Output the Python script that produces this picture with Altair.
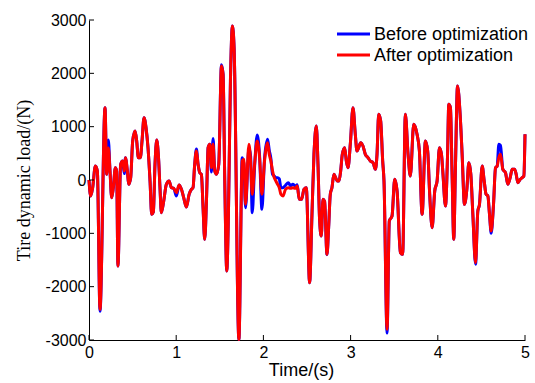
import altair as alt
import pandas as pd

time_s = [0.000, 0.019, 0.042, 0.073, 0.096, 0.126, 0.184, 0.203, 0.222, 0.241, 0.260, 0.279, 0.302, 0.317, 0.332, 0.363, 0.386, 0.405, 0.417, 0.440,
          0.455, 0.478, 0.501, 0.528, 0.547, 0.566, 0.589, 0.608, 0.631, 0.654, 0.677, 0.700, 0.719, 0.738, 0.757, 0.776, 0.795, 0.814, 0.830, 0.857,
          0.887, 0.918, 0.945, 0.972, 1.002, 1.033, 1.060, 1.086, 1.117, 1.148, 1.174, 1.193, 1.212, 1.232, 1.251, 1.270, 1.289, 1.308, 1.327, 1.347,
          1.366, 1.385, 1.404, 1.423, 1.442, 1.462, 1.488, 1.519, 1.538, 1.557, 1.580, 1.599, 1.622, 1.645, 1.664, 1.719, 1.757, 1.776, 1.795, 1.834,
          1.853, 1.872, 1.899, 1.929, 1.956, 1.983, 2.013, 2.048, 2.067, 2.086, 2.105, 2.124, 2.143, 2.163, 2.182, 2.201, 2.224, 2.254, 2.285, 2.312,
          2.338, 2.365, 2.388, 2.411, 2.438, 2.465, 2.492, 2.530, 2.557, 2.580, 2.607, 2.626, 2.645, 2.664, 2.683, 2.702, 2.729, 2.748, 2.767, 2.786,
          2.809, 2.828, 2.848, 2.867, 2.886, 2.905, 2.932, 2.951, 2.970, 2.998, 3.027, 3.054, 3.073, 3.092, 3.115, 3.142, 3.169, 3.199, 3.226, 3.257,
          3.284, 3.303, 3.322, 3.345, 3.368, 3.383, 3.418, 3.444, 3.475, 3.506, 3.533, 3.571, 3.597, 3.628, 3.659, 3.685, 3.724, 3.762, 3.789, 3.820,
          3.858, 3.884, 3.907, 3.935, 3.965, 3.992, 4.019, 4.042, 4.057, 4.088, 4.111, 4.126, 4.145, 4.164, 4.183, 4.203, 4.226, 4.256, 4.279, 4.306,
          4.333, 4.356, 4.379, 4.402, 4.433, 4.459, 4.478, 4.509, 4.532, 4.554, 4.574, 4.593, 4.612, 4.639, 4.662, 4.681, 4.700, 4.719, 4.746, 4.776,
          4.803, 4.830, 4.853, 4.880, 4.899, 4.918, 4.945, 4.968, 4.987, 5.000]

load_after = [0, -300, -144, 263, 169, -2425, 1356, 106, 600, 169, -331, -144, 231, 169, -1613, 294, 356, 169, 419, 169,
              -81, 44, 731, 919, 731, 419, 419, 731, 1169, 981, 600, -19, -644, -600, 294, 750, 481, -144, -612, -394,
              -81, -19, -144, -156, -237, -94, -175, -331, -506, -269, -175, -144, 294, 544, 294, 138, 106, -519, -1113, -394,
              606, 669, 231, 669, 169, 106, 294, 2137, 1981, -19, -1706, -644, 1856, 2887, 2481, -2990, 356, 388, -456, 669,
              356, -269, 294, 731, 419, -269, 356, 700, 481, 356, 169, 44, -19, -81, -144, -269, -300, -175, -144, -156,
              -144, -156, -112, -362, -362, -175, -144, -1925, -644, 481, 1012, 294, -769, -1050, -362, -400, -1394, -894, -269, -144,
              106, 44, -19, -19, 169, 481, 606, 356, 231, 700, 1356, 856, 544, 606, 700, 638, 481, 419, 356, 325,
              200, 481, 1231, 1106, 356, -19, -2800, -769, -675, 12, -206, -1362, -1394, 1231, 481, 75, 1044, 856, 544, -644,
              731, 544, -269, -894, -206, -19, 606, 481, 169, -487, 419, 1419, 1356, 106, -1112, 294, 1762, 1231, 481, -456,
              -175, 325, 106, -644, -1550, -581, -456, 262, -19, -269, -300, -644, -956, -456, 231, 262, 419, 481, 200, 138,
              -81, 44, 200, 200, 106, -50, 12, 44, 75, 856]

load_before = [0, -300, -144, 263, 169, -2460, 1356, 106, 750, 169, -331, -144, 231, 169, -1613, 294, 356, 120, 419, 169,
               -81, 44, 731, 919, 731, 419, 419, 731, 1169, 981, 600, -19, -644, -600, 294, 750, 481, -144, -612, -394,
               -81, -19, -144, -156, -300, -94, -175, -331, -506, -269, -175, -144, 294, 580, 294, 138, 106, -519, -1113, -394,
               606, 669, 150, 780, 169, 106, 294, 2160, 1981, -19, -1706, -644, 1856, 2887, 2481, -2990, 419, 300, -519, 606,
               450, -612, 250, 844, 460, -550, 400, 762, 560, 400, 106, 75, 44, 44, 20, -144, -144, -100, -50, -110,
               -80, -110, -90, -362, -362, -175, -144, -1925, -644, 481, 1012, 294, -769, -1050, -362, -400, -1400, -894, -269, -144,
               106, 44, -19, -19, 169, 481, 606, 356, 231, 700, 1356, 856, 544, 606, 700, 638, 481, 419, 356, 325,
               200, 481, 1231, 1106, 356, -19, -2870, -769, -675, 12, -206, -1362, -1394, 1231, 481, 75, 1044, 856, 544, -644,
               731, 544, -269, -894, -206, -19, 606, 481, 169, -487, 419, 1419, 1356, 106, -1112, 294, 1762, 1231, 481, -456,
               -175, 325, 106, -644, -1580, -581, -456, 262, -19, -269, -300, -644, -1000, -456, 231, 262, 669, 650, 200, 138,
               -81, 44, 200, 200, 106, -50, 12, 44, 75, 856]

x_ticks = [0, 1, 2, 3, 4, 5]
y_ticks = [-3000, -2000, -1000, 0, 1000, 2000, 3000]
series_names = ["Before optimization", "After optimization"]
series_colors = ["#0000ff", "#ff0000"]

df_before = pd.DataFrame({"t": time_s, "load": load_before, "s": series_names[0]})
df_after = pd.DataFrame({"t": time_s, "load": load_after, "s": series_names[1]})
df_xt = pd.DataFrame({"t": x_ticks})
df_yt = pd.DataFrame({"load": y_ticks})

W, H = 436, 320
xscale = alt.Scale(domain=[0, 5], nice=False, zero=False)
yscale = alt.Scale(domain=[-3000, 3000], nice=False, zero=False)
cscale = alt.Scale(domain=series_names, range=series_colors)

x_axis = alt.Axis(values=x_ticks, title="Time/(s)", tickSize=0, labelPadding=4,
                  labelFont="Liberation Sans", labelFontSize=16, labelColor="black",
                  titleFont="Liberation Sans", titleFontSize=18, titleFontWeight="normal",
                  titleColor="black", titlePadding=1, titleX=212, domainColor="black", grid=False,
                  labelFlush=False, format="d")
y_axis = alt.Axis(values=y_ticks, title="Tire dynamic load/(N)", tickSize=0, labelPadding=3,
                  labelFont="Liberation Sans", labelFontSize=16, labelColor="black",
                  labelExpr="'' + datum.value",
                  titleFont="Liberation Serif", titleFontSize=18, titleFontWeight="normal",
                  titleColor="black", titleX=-65, titleY=160, titleAngle=-90, titleBaseline="middle",
                  domainColor="black", grid=False, labelFlush=False)

X = alt.X("t:Q", scale=xscale, axis=x_axis)
Y = alt.Y("load:Q", scale=yscale, axis=y_axis)
C = alt.Color("s:N", scale=cscale, legend=None)

before = alt.Chart(df_before).mark_line(strokeWidth=3, interpolate="monotone").encode(x=X, y=Y, color=C)
after = alt.Chart(df_after).mark_line(strokeWidth=3, interpolate="monotone").encode(x=X, y=Y, color=C)

xt = alt.Chart(df_xt).mark_rule(color="black", strokeWidth=1).encode(
    x=X, y=alt.value(H), y2=alt.value(H - 5))
yt = alt.Chart(df_yt).mark_rule(color="black", strokeWidth=1).encode(
    y=Y, x=alt.value(0), x2=alt.value(5))

# legend drawn inside the plot, top right
legend_layers = []
for i, name in enumerate(series_names):
    df_leg = pd.DataFrame({"s": [name]})
    ypos = 14 + 21 * i
    legend_layers.append(
        alt.Chart(df_leg).mark_rule(strokeWidth=3).encode(
            x=alt.value(248), x2=alt.value(281), y=alt.value(ypos), color=C))
    legend_layers.append(
        alt.Chart(df_leg).mark_text(align="left", baseline="middle", font="Liberation Sans",
                                    fontSize=18, color="black").encode(
            x=alt.value(285), y=alt.value(ypos + 1), text="s:N"))

chart = alt.layer(before, after, xt, yt, *legend_layers).properties(
    width=W, height=H,
    autosize=alt.AutoSizeParams(type="none"),
    padding={"left": 89, "top": 20, "right": 10, "bottom": 43},
    background="white",
).configure_view(stroke=None)

chart.save("out.html", embed_options={"renderer": "svg", "actions": False})
